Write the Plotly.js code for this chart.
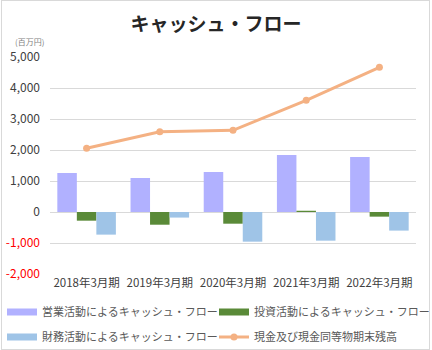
<!DOCTYPE html>
<html>
<head>
<meta charset="utf-8">
<script src="https://cdn.plot.ly/plotly-3.0.1.min.js"></script>
<style>
html,body{margin:0;padding:0;background:#fff;}
#wrap{position:relative;width:432px;height:350px;}
#chart{position:absolute;left:0;top:0;width:432px;height:350px;}
#frame{position:absolute;left:1px;top:0;width:429px;height:350px;box-sizing:border-box;border:1px solid #d9d9d9;pointer-events:none;}
</style>
</head>
<body>
<div id="wrap"><div id="chart"></div><div id="frame"></div></div>
<script>
var categories = ["2018年3月期", "2019年3月期", "2020年3月期", "2021年3月期", "2022年3月期"];
var operatingCF = [1258, 1097, 1290, 1839, 1774];
var investingCF = [-280, -410, -377, 40, -150];
var financingCF = [-730, -180, -957, -925, -600];
var cashBalance = [2055, 2590, 2635, 3603, 4668];
var seriesNames = ["営業活動によるキャッシュ・フロー", "投資活動によるキャッシュ・フロー", "財務活動によるキャッシュ・フロー", "現金及び現金同等物期末残高"];
var yTickVals = [-2000, -1000, 0, 1000, 2000, 3000, 4000, 5000];
var yTickText = ["-2,000", "-1,000", "0", "1,000", "2,000", "3,000", "4,000", "5,000"];

var colors = ["#B1B1FF", "#5A8A38", "#9FC4E7", "#F4B183"];
var font = "'Noto Sans CJK JP', 'Noto Sans', sans-serif";

var tickTextColored = yTickText.map(function(t, i){
  return yTickVals[i] < 0 ? '<span style="color:#FF0000">' + t + '</span>' : t;
});

var traces = [
  {type:'bar', x:categories, y:operatingCF, name:seriesNames[0], marker:{color:colors[0]}, showlegend:false, hoverinfo:'skip'},
  {type:'bar', x:categories, y:investingCF, name:seriesNames[1], marker:{color:colors[1]}, showlegend:false, hoverinfo:'skip'},
  {type:'bar', x:categories, y:financingCF, name:seriesNames[2], marker:{color:colors[2]}, showlegend:false, hoverinfo:'skip'},
  {type:'scatter', mode:'lines+markers', x:categories, y:cashBalance, name:seriesNames[3], line:{color:colors[3], width:3}, marker:{color:colors[3], size:7}, showlegend:false, hoverinfo:'skip'},
  // legend entries
  {type:'scatter', mode:'lines', x:[null], y:[null], name:seriesNames[0], line:{color:colors[0], width:7}, legend:'legend'},
  {type:'scatter', mode:'lines', x:[null], y:[null], name:seriesNames[1], line:{color:colors[1], width:7}, legend:'legend2'},
  {type:'scatter', mode:'lines', x:[null], y:[null], name:seriesNames[2], line:{color:colors[2], width:7}, legend:'legend3'},
  {type:'scatter', mode:'lines+markers', x:[null], y:[null], name:seriesNames[3], line:{color:colors[3], width:3}, marker:{color:colors[3], size:7}, legend:'legend4'}
];

function leg(xpx, ypx){
  return {
    orientation:'h', xref:'container', yref:'container', xanchor:'left', yanchor:'middle',
    x:xpx/432, y:1 - ypx/350,
    font:{family:font, size:11, color:'#595959'},
    bgcolor:'rgba(0,0,0,0)', itemwidth:30
  };
}

var layout = {
  width:432, height:350,
  margin:{l:50, r:16, t:57, b:76},
  paper_bgcolor:'#ffffff', plot_bgcolor:'#ffffff',
  font:{family:font, color:'#404040'},
  title:{text:'<b>キャッシュ・フロー</b>', font:{family:font, size:19, color:'#262626'}, x:0.5, xanchor:'center', y:0.93, yanchor:'middle'},
  barmode:'group', bargap:0.2, bargroupgap:0,
  xaxis:{type:'category', tickfont:{family:font, size:11.5, color:'#404040'}, showgrid:false, zeroline:false, showline:false, ticks:'', automargin:false},
  yaxis:{range:[-2000, 5000], tickvals:yTickVals, ticktext:tickTextColored, tickfont:{family:font, size:12, color:'#404040'},
         showgrid:true, gridcolor:'#d9d9d9', gridwidth:1, zeroline:true, zerolinecolor:'#d9d9d9', zerolinewidth:1, showline:false, ticks:'', ticklabelstandoff:9, automargin:false, fixedrange:true},
  legend:leg(2, 312),
  legend2:leg(214, 312),
  legend3:leg(2, 337),
  legend4:leg(214, 337),
  annotations:[{text:'(百万円)', xref:'paper', yref:'paper', x:-0.1, y:1.07, xanchor:'left', yanchor:'middle', showarrow:false, font:{family:font, size:8, color:'#808080'}}],
  showlegend:true
};

Plotly.newPlot('chart', traces, layout, {displayModeBar:false, staticPlot:true});
</script>
</body>
</html>
